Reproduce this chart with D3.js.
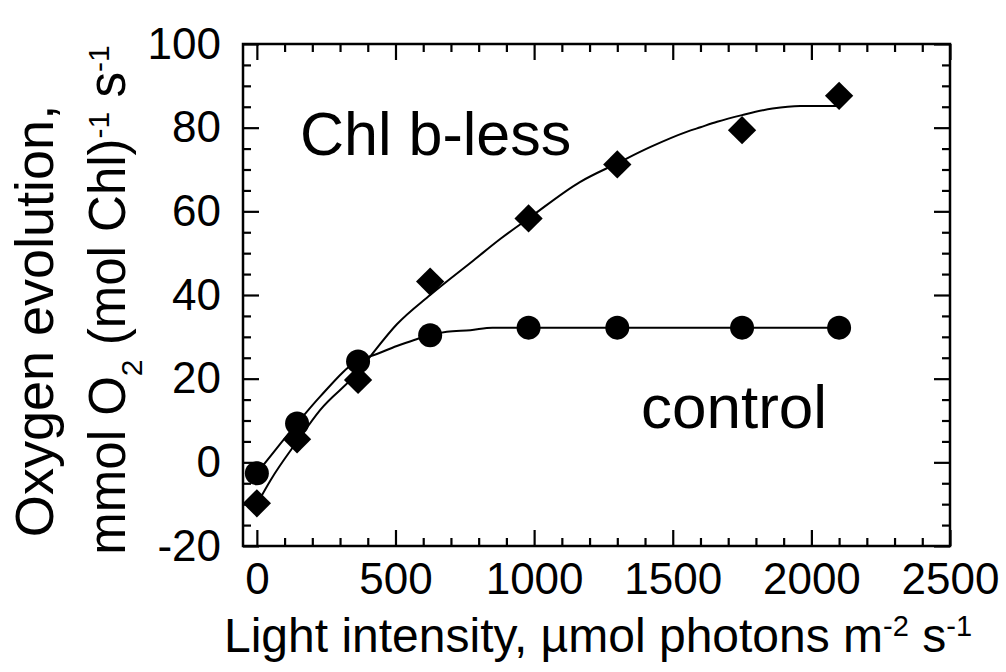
<!DOCTYPE html>
<html>
<head>
<meta charset="utf-8">
<script src="https://cdn.jsdelivr.net/npm/d3@7"></script>
<style>
  body { margin: 0; background: #fff; }
  svg text { font-family: "Liberation Sans", Arial, sans-serif; fill: #000; }
</style>
</head>
<body>
<div id="chart"></div>
<script>
// light intensity (umol photons m-2 s-1)
let lightX = [0, 145, 365, 625, 980, 1300, 1750, 2100];
// measured oxygen evolution
let controlY = [-2.6, 9.3, 24.1, 30.4, 32.2, 32.2, 32.2, 32.2];
let chlbLessY = [-9.8, 5.5, 19.7, 43.2, 58.3, 71.2, 79.4, 87.6];

// fitted curves
let controlFitX = [0, 60, 145, 228, 365, 420, 505, 565, 625, 685, 770, 850, 1000, 1500, 2100];
let controlFitY = [-2.6, 2.4, 9.3, 15.7, 24.3, 25.6, 27.8, 29.2, 30.4, 31.2, 31.6, 32.2, 32.2, 32.2, 32.2];
let chlbFitX = [0, 50, 145, 228, 365, 410, 505, 625, 780, 880, 980, 1165, 1300, 1420, 1550, 1600, 1660, 1750, 1860, 1960, 2100];
let chlbFitY = [-10, -4.2, 5.0, 12.5, 21.6, 25.4, 33.0, 40.0, 48.2, 53.5, 58.3, 67.0, 71.5, 75.4, 79.0, 80.1, 81.4, 83.0, 84.6, 85.2, 85.2];

let xTicks = [0, 500, 1000, 1500, 2000, 2500];
let yTicks = [-20, 0, 20, 40, 60, 80, 100];
let xMinor = d3.range(100, 2500, 100).filter((v) => v % 500 != 0);
let yMinor = d3.range(-15, 100, 5).filter((v) => v % 20 != 0);

let width = 1006,
	height = 672;
let plotLeft = 243,
	plotRight = 950,
	plotTop = 44,
	plotBottom = 546;

let svg = d3.select('#chart').append('svg').attr('width', width).attr('height', height);

let x = d3.scaleLinear().domain([-50, 2500]).range([plotLeft, plotRight]);
let y = d3.scaleLinear().domain([-20, 100]).range([plotBottom, plotTop]);

// axes, ticks pointing inward
function addAxis(axis, tx, ty, values, size, labels, pad) {
	let g = svg
		.append('g')
		.attr('transform', 'translate(' + tx + ',' + ty + ')')
		.call(
			axis
				.tickValues(values)
				.tickSize(-size)
				.tickSizeOuter(0)
				.tickPadding(pad)
				.tickFormat(labels ? (d) => String(d) : '')
		);
	g.select('.domain').remove();
	g.selectAll('line').attr('stroke', '#000').attr('stroke-width', 2.2);
	g.selectAll('text').style('font-size', '44px').attr('fill', '#000');
	return g;
}

addAxis(d3.axisBottom(x), 0, plotBottom, xTicks, 16, true, 17);
addAxis(d3.axisBottom(x), 0, plotBottom, xMinor, 8, false, 0);
addAxis(d3.axisTop(x), 0, plotTop, xTicks, 16, false, 0);
addAxis(d3.axisTop(x), 0, plotTop, xMinor, 8, false, 0);
addAxis(d3.axisLeft(y), plotLeft, 0, yTicks, 16, true, 22);
addAxis(d3.axisLeft(y), plotLeft, 0, yMinor, 8, false, 0);
addAxis(d3.axisRight(y), plotRight, 0, yTicks, 16, false, 0);
addAxis(d3.axisRight(y), plotRight, 0, yMinor, 8, false, 0);

svg.append('rect')
	.attr('x', plotLeft)
	.attr('y', plotTop)
	.attr('width', plotRight - plotLeft)
	.attr('height', plotBottom - plotTop)
	.attr('fill', 'none')
	.attr('stroke', '#000')
	.attr('stroke-width', 2.5);

// fitted lines
let line = d3
	.line()
	.x((d) => x(d[0]))
	.y((d) => y(d[1]))
	.curve(d3.curveMonotoneX);

svg.append('path')
	.datum(d3.zip(controlFitX, controlFitY))
	.attr('d', line)
	.attr('fill', 'none')
	.attr('stroke', '#000')
	.attr('stroke-width', 2);

svg.append('path')
	.datum(d3.zip(chlbFitX, chlbFitY))
	.attr('d', line)
	.attr('fill', 'none')
	.attr('stroke', '#000')
	.attr('stroke-width', 2);

// markers
svg.selectAll('circle.ctrl')
	.data(d3.zip(lightX, controlY))
	.enter()
	.append('circle')
	.attr('class', 'ctrl')
	.attr('cx', (d) => x(d[0]))
	.attr('cy', (d) => y(d[1]))
	.attr('r', 12)
	.attr('fill', '#000');

let diamond = d3.symbol().type(d3.symbolSquare).size(400);
svg.selectAll('path.chlb')
	.data(d3.zip(lightX, chlbLessY))
	.enter()
	.append('path')
	.attr('class', 'chlb')
	.attr('d', diamond)
	.attr('transform', (d) => 'translate(' + x(d[0]) + ',' + y(d[1]) + ') rotate(45)')
	.attr('fill', '#000');

// annotations
svg.append('text').attr('x', 300).attr('y', 155).style('font-size', '61px').text('Chl b-less');
svg.append('text').attr('x', 641).attr('y', 428).style('font-size', '62px').text('control');

// x title
let xt = svg.append('text').attr('x', 598).attr('y', 652).attr('text-anchor', 'middle').style('font-size', '48px');
xt.append('tspan').text('Light intensity, \u00b5mol photons m');
xt.append('tspan').attr('baseline-shift', 'super').style('font-size', '29px').text('-2');
xt.append('tspan').text(' s');
xt.append('tspan').attr('baseline-shift', 'super').style('font-size', '29px').text('-1');

// y title
svg.append('text')
	.attr('transform', 'translate(53,321) rotate(-90)')
	.attr('text-anchor', 'middle')
	.style('font-size', '54px')
	.text('Oxygen evolution,');

let yt2 = svg.append('text').attr('transform', 'translate(125,300) rotate(-90)').attr('text-anchor', 'middle').style('font-size', '51px');
yt2.append('tspan').text('mmol O');
yt2.append('tspan').attr('baseline-shift', 'sub').style('font-size', '30px').text('2');
yt2.append('tspan').text(' (mol Chl)');
yt2.append('tspan').attr('baseline-shift', 'super').style('font-size', '30px').text('-1');
yt2.append('tspan').text(' s');
yt2.append('tspan').attr('baseline-shift', 'super').style('font-size', '30px').text('-1');
</script>
</body>
</html>
